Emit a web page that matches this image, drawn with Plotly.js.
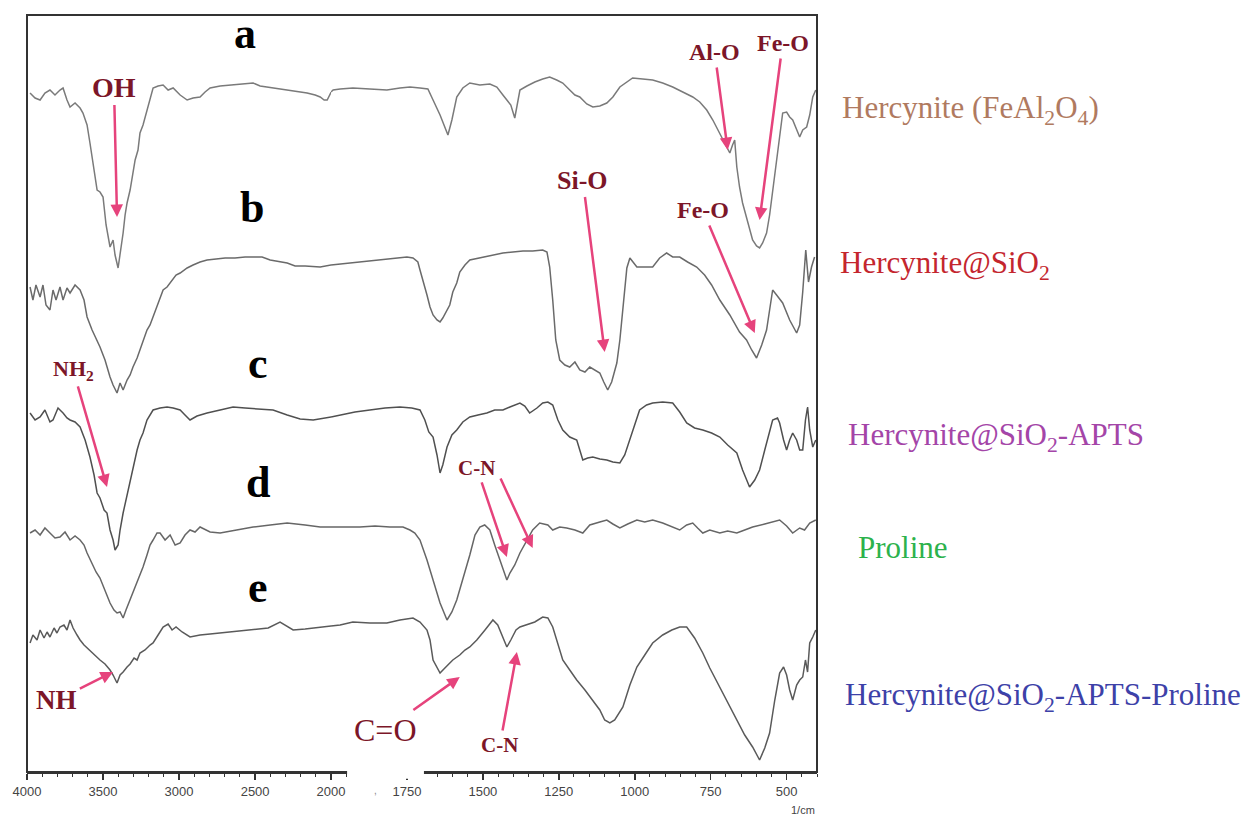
<!DOCTYPE html>
<html>
<head>
<meta charset="utf-8">
<script src="https://cdn.plot.ly/plotly-3.0.1.min.js"></script>
<style>html,body{margin:0;padding:0;background:#fff;}#chart{width:1245px;height:816px;}</style>
</head>
<body>
<div id="chart"></div>
<script>
// ---- Data (wavenumber in cm-1, stacked transmittance in arbitrary units) ----
const wnA = [3980,3947,3914,3882,3849,3816,3783,3763,3737,3717,3684,3651,3632,3605,3586,3559,3539,3520,3500,3480,3454,3434,3421,3401,3382,3368,3355,3342,3322,3303,3289,3270,3257,3237,3211,3191,3171,3138,3105,3072,3039,2993,2947,2908,2862,2829,2796,2730,2645,2579,2513,2467,2421,2355,2289,2224,2158,2105,2072,2046,2026,2000,1993,1970,1928,1872,1816,1773,1740,1707,1681,1664,1641,1615,1602,1586,1566,1543,1510,1477,1454,1434,1421,1408,1395,1385,1378,1355,1329,1303,1280,1257,1237,1214,1197,1181,1158,1138,1115,1092,1072,1049,1026,1007,974,941,908,875,842,809,786,763,743,720,704,687,678,671,664,655,645,632,622,612,599,589,579,566,556,546,533,523,513,500,490,480,467,457,447,434,424,414,404];
const tA = [679,674,672,679,682,677,682,684,672,665,669,664,659,647,629,602,582,580,575,547,525,532,517,504,522,539,557,569,582,602,612,622,639,647,662,674,684,686,687,682,684,677,672,674,675,680,684,686,687,688,689,686,685,683,682,680,679,677,675,672,672,680,682,683,684,683,682,684,685,684,683,672,657,637,652,675,684,689,687,688,685,677,672,667,654,672,682,686,690,693,695,692,689,682,677,675,668,665,666,669,675,685,690,694,693,692,689,685,680,675,670,662,652,639,629,619,627,632,605,585,569,555,542,532,526,524,529,539,557,582,612,639,659,660,655,652,642,635,642,645,657,675,682];

const wnB = [3980,3961,3941,3914,3895,3875,3849,3829,3809,3783,3763,3737,3717,3684,3651,3625,3605,3572,3520,3487,3454,3434,3408,3388,3368,3342,3322,3303,3276,3257,3237,3211,3191,3171,3145,3125,3105,3079,3046,3020,2993,2947,2908,2862,2816,2763,2697,2632,2566,2513,2454,2401,2336,2289,2237,2171,2072,2000,1970,1928,1872,1822,1780,1750,1730,1714,1707,1697,1684,1674,1664,1651,1641,1632,1618,1609,1599,1586,1576,1559,1543,1510,1477,1434,1401,1368,1336,1303,1289,1280,1270,1260,1247,1230,1214,1197,1181,1164,1148,1132,1115,1102,1089,1076,1059,1049,1043,1036,1026,1016,993,967,941,918,895,875,852,826,796,770,747,720,687,655,632,615,599,582,566,556,546,533,513,490,467,457,447,437,428,418,408];
const tB = [485,472,487,475,487,467,462,482,472,485,472,484,479,487,482,472,455,442,425,412,395,387,379,389,382,392,397,405,414,422,429,442,447,455,467,475,482,485,492,497,499,504,507,510,512,513,514,514,515,515,515,512,510,509,506,506,505,507,508,509,511,513,514,515,514,510,502,492,477,465,457,452,450,454,462,467,480,489,500,507,512,514,516,519,520,521,521,522,520,505,472,432,412,407,405,410,402,400,405,402,399,390,382,390,409,432,452,477,504,514,505,505,505,514,519,515,515,510,505,497,487,472,457,440,432,422,414,427,442,462,482,477,469,452,439,447,480,522,490,505,515];

const wnC = [3980,3947,3914,3882,3849,3829,3796,3763,3737,3717,3684,3651,3618,3586,3559,3539,3520,3493,3474,3454,3434,3421,3401,3388,3368,3342,3322,3303,3276,3257,3237,3211,3191,3171,3125,3079,3039,2993,2961,2928,2882,2816,2730,2645,2566,2467,2382,2289,2204,2118,2039,2000,1970,1921,1872,1822,1773,1734,1707,1691,1678,1664,1651,1641,1632,1618,1602,1586,1566,1543,1516,1487,1461,1434,1411,1395,1378,1362,1346,1322,1303,1286,1270,1253,1237,1214,1191,1181,1171,1155,1138,1115,1092,1072,1049,1033,1016,1000,984,961,941,908,875,852,829,803,776,747,720,694,664,645,622,605,589,572,556,546,530,523,510,500,490,480,467,457,447,438,431,424,414,404];
const tC = [359,352,355,362,350,352,364,359,354,352,350,345,332,315,297,279,274,262,259,242,232,222,227,242,259,277,292,305,322,332,339,352,357,362,364,365,364,362,357,352,356,359,362,365,364,363,362,357,353,352,354,355,357,360,362,364,365,364,362,352,340,335,317,299,307,325,337,342,350,355,357,359,362,362,365,367,369,366,359,364,369,370,367,352,342,335,332,322,312,314,315,313,312,310,309,317,332,347,362,367,369,370,369,360,349,344,342,339,335,327,319,302,285,292,302,322,342,352,354,349,332,322,332,339,332,322,322,352,365,342,325,332];

const wnD = [3980,3947,3914,3882,3849,3816,3783,3750,3717,3684,3651,3625,3605,3572,3546,3520,3487,3454,3428,3408,3388,3368,3349,3322,3303,3276,3257,3237,3211,3191,3171,3145,3125,3092,3059,3026,2993,2961,2928,2895,2862,2796,2730,2632,2513,2401,2289,2171,2072,2000,1954,1905,1855,1806,1763,1740,1724,1707,1684,1664,1641,1618,1602,1586,1566,1543,1526,1510,1494,1477,1461,1444,1431,1421,1411,1395,1378,1355,1336,1313,1286,1270,1247,1224,1197,1171,1148,1115,1092,1072,1049,1023,993,967,941,908,875,852,829,809,793,776,753,720,694,664,638,612,572,546,523,500,480,457,441,424,404];
const tD = [239,242,237,244,239,234,235,240,232,236,232,227,219,209,200,194,182,169,162,159,160,154,162,172,179,189,197,205,217,227,232,239,239,232,237,227,229,237,242,240,245,240,239,242,245,247,249,247,245,245,245,245,246,245,245,242,239,232,212,192,169,152,160,172,192,217,237,245,247,242,227,212,200,192,199,207,219,232,242,249,247,242,245,244,242,239,247,250,252,248,244,248,252,250,252,249,245,242,247,249,244,239,242,239,241,239,242,245,248,250,252,246,239,244,242,249,252];

const wnE = [3980,3961,3934,3914,3888,3868,3849,3822,3803,3783,3757,3737,3717,3697,3671,3651,3625,3605,3586,3553,3520,3487,3454,3434,3408,3388,3368,3342,3322,3296,3276,3257,3224,3191,3171,3138,3105,3072,3046,3020,2980,2928,2862,2796,2730,2632,2513,2414,2336,2289,2250,2171,2072,2000,1970,1928,1872,1816,1773,1730,1707,1684,1674,1664,1651,1641,1625,1609,1599,1576,1559,1543,1520,1493,1467,1451,1434,1421,1408,1391,1378,1355,1329,1303,1286,1270,1253,1237,1214,1191,1164,1138,1115,1099,1082,1066,1049,1039,1016,993,967,941,908,878,852,829,803,776,753,720,694,664,638,612,599,589,572,556,539,523,510,500,490,480,467,457,447,438,431,424,414,404];
const tE = [129,137,132,142,134,140,135,144,139,145,147,142,152,144,137,132,127,124,122,117,112,108,102,97,89,97,100,105,108,114,112,119,122,127,129,137,145,148,142,145,140,135,137,138,139,140,142,144,150,146,142,143,145,146,147,150,149,149,152,154,150,142,132,112,104,99,104,109,112,117,122,125,132,142,152,147,135,125,132,142,145,147,150,155,154,145,127,112,102,92,82,72,62,52,49,52,60,65,87,105,117,129,137,142,145,145,134,119,104,85,70,52,37,25,17,12,24,39,72,99,105,97,82,72,87,92,95,112,100,129,135,142];

const xTicksTop = [4000,3500,3000,2500];
const xTicksLow = [2000,1750,1500,1250,1000,750,500];

const spectra = [
  {name:'a', wn:wnA, t:tA, color:'#7a7a7a'},
  {name:'b', wn:wnB, t:tB, color:'#6a6a6a'},
  {name:'c', wn:wnC, t:tC, color:'#505050'},
  {name:'d', wn:wnD, t:tD, color:'#666666'},
  {name:'e', wn:wnE, t:tE, color:'#5a5a5a'}
];

const sampleNames = [
  'Hercynite (FeAl<sub>2</sub>O<sub>4</sub>)',
  'Hercynite@SiO<sub>2</sub>',
  'Hercynite@SiO<sub>2</sub>-APTS',
  'Proline',
  'Hercynite@SiO<sub>2</sub>-APTS-Proline'
];
const sampleColors = ['#b07a60','#c4262e','#a445a8','#2cb24c','#3d41a8'];

// ---- Build traces: the x axis is broken at 2000 cm-1 (two scales) ----
const traces = [];
spectra.forEach(s => {
  const hiX=[], hiY=[], loX=[], loY=[];
  s.wn.forEach((w,i) => {
    if (w >= 2000) { hiX.push(w); hiY.push(s.t[i]); }
    if (w <= 2000) { loX.push(w); loY.push(s.t[i]); }
  });
  const line = {color:s.color, width:1.5};
  traces.push({x:hiX, y:hiY, xaxis:'x', yaxis:'y', mode:'lines', line, hoverinfo:'skip'});
  traces.push({x:loX, y:loY, xaxis:'x2', yaxis:'y', mode:'lines', line, hoverinfo:'skip'});
});

const serif = 'Liberation Serif, Times New Roman, serif';
const sans = 'Liberation Sans, Arial, sans-serif';
const maroon = '#7c1628';
const pink = '#e6437c';

const annotations = [];
// spectrum letters
[['a',2566,739],['b',2520,565],['c',2480,409],['d',2480,290],['e',2480,185]].forEach(([t,x,y])=>{
  annotations.push({text:t, x, y, xref:'x', yref:'y', showarrow:false,
    font:{family:serif, size:44, color:'#000', weight:'bold'}});
});
// band labels with their arrows: [text, xref, labelX, labelY, headX, headY, size, weight]
const bandLabels = [
  ['OH','x',3428,685,3408,555,28,'bold'],
  ['Al-O','x2',737,720,694,622,24,'bold'],
  ['Fe-O','x2',513,729,589,552,24,'bold'],
  ['Si-O','x2',1171,592,1099,420,26,'bold'],
  ['Fe-O','x2',776,562,605,439,24,'bold'],
  ['NH<sub>2</sub>','x',3697,402,3474,285,22,'bold'],
  ['C-N','x2',1520,304,1421,215,21,'bold'],
  ['NH','x',3803,72,3434,100,27,'bold'],
  ['C=O','x2',1822,42,1576,95,32,'normal'],
  ['C-N','x2',1444,27,1388,120,21,'bold']
];
bandLabels.forEach(([t,xr,lx,ly,hx,hy,sz,wt])=>{
  annotations.push({text:t, x:hx, y:hy, ax:lx, ay:ly, xref:xr, yref:'y', axref:xr, ayref:'y',
    showarrow:true, arrowhead:2, arrowsize:1, arrowwidth:2.5, arrowcolor:pink, standoff:0, startstandoff:1,
    font:{family:serif, size:sz, color:maroon, weight:wt}});
});
// second arrow of the C-N label on spectrum d
annotations.push({text:'', x:1336, y:224, ax:1444, ay:295, xref:'x2', yref:'y', axref:'x2', ayref:'y',
  showarrow:true, arrowhead:2, arrowsize:1, arrowwidth:2.5, arrowcolor:pink, standoff:0});
// sample names on the right
const nameY = [0.8745,0.670,0.4425,0.296,0.099];
const nameX = [1.0291,1.0266,1.0367,1.0494,1.0329];
sampleNames.forEach((n,i)=>{
  annotations.push({text:n, x:nameX[i], y:nameY[i], xref:'paper', yref:'paper', xanchor:'left', yanchor:'middle',
    showarrow:false, font:{family:serif, size:31, color:sampleColors[i]}});
});
// unit label
annotations.push({text:'1/cm', x:1.0, y:-0.05, xref:'paper', yref:'paper', xanchor:'right', yanchor:'middle',
  showarrow:false, font:{family:sans, size:11, color:'#444'}});
annotations.push({text:',', x:1855, y:-0.035, xref:'x2', yref:'paper', showarrow:false,
  font:{family:sans, size:10, color:'#888'}});

const axisCommon = {
  showgrid:false, zeroline:false, showline:true, linecolor:'#333', linewidth:2,
  ticks:'outside', ticklen:6, tickwidth:1.5, tickcolor:'#333',
  tickfont:{family:sans, size:13, color:'#444'},
  fixedrange:true, anchor:'y'
};

const layout = {
  width:1245, height:816,
  margin:{l:27, r:428, t:15, b:44},
  paper_bgcolor:'#fff', plot_bgcolor:'#fff',
  showlegend:false,
  xaxis: Object.assign({}, axisCommon, {domain:[0,0.3848], range:[4000,2001],
    tickmode:'array', tickvals:xTicksTop,
    minor:{dtick:100, tick0:0, ticks:'outside', ticklen:3, tickcolor:'#333', tickwidth:1}}),
  xaxis2: Object.assign({}, axisCommon, {domain:[0.3848,1], range:[2000,400],
    tickmode:'array', tickvals:xTicksLow,
    minor:{dtick:50, tick0:0, ticks:'outside', ticklen:3, tickcolor:'#333', tickwidth:1}}),
  yaxis:{range:[0,757], showgrid:false, zeroline:false, showline:false, showticklabels:false, ticks:'', fixedrange:true},
  shapes:[
    {type:'rect', xref:'paper', yref:'paper', x0:0, x1:1, y0:0, y1:1, line:{color:'#333', width:2}, layer:'above'},
    {type:'rect', xref:'x2', yref:'paper', x0:1947, x1:1694, y0:-0.009, y1:0.09, fillcolor:'#fff', line:{width:0}, layer:'above'}
  ],
  annotations
};

Plotly.newPlot('chart', traces, layout, {staticPlot:true, displayModeBar:false});
</script>
</body>
</html>
